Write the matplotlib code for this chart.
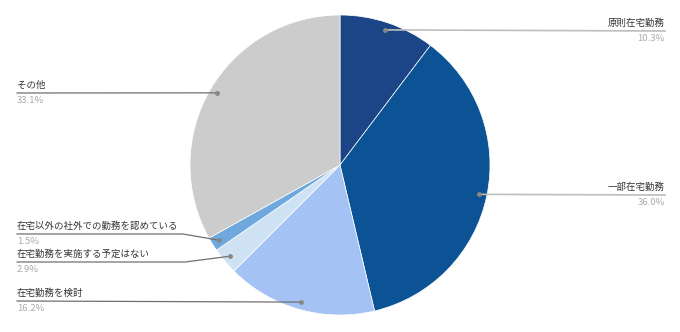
import numpy as np
import matplotlib.pyplot as plt

plt.rcParams['font.family'] = ['Noto Sans CJK JP', 'DejaVu Sans']

# ================================
# Data
# ================================
labels = ['原則在宅勤務', '一部在宅勤務', '在宅勤務を検討',
          '在宅勤務を実施する予定はない', '在宅以外の社外での勤務を認めている', 'その他']
values = [10.3, 36.0, 16.2, 2.9, 1.5, 33.1]
colors = ['#1c4587', '#0b5394', '#a4c2f4', '#cfe2f3', '#6fa8dc', '#cccccc']

# label layout (pixel coords, y from top): side, line y, bend x
label_layout = [
    ('right', 31, None),
    ('right', 195, None),
    ('left', 301, None),
    ('left', 262, 185),
    ('left', 234, 183),
    ('left', 93, None),
]

W, H = 680, 332
cx, cy, R = 340, 165, 150

fig = plt.figure(figsize=(W / 100, H / 100), dpi=100)
ax = fig.add_axes([0, 0, 1, 1])

wedges, _ = ax.pie(values, colors=colors, startangle=90, counterclock=False,
                   center=(cx, H - cy), radius=R,
                   wedgeprops=dict(edgecolor='white', linewidth=0.5))

# pie() resets the limits, so set them afterwards
ax.set_xlim(0, W)
ax.set_ylim(0, H)
ax.set_aspect('equal')
ax.axis('off')

for w, lab, val, (side, ly, bend) in zip(wedges, labels, values, label_layout):
    ang = np.deg2rad((w.theta1 + w.theta2) / 2)
    px = cx + 0.95 * R * np.cos(ang)
    py = H - cy + 0.95 * R * np.sin(ang)
    y = H - ly
    if side == 'right':
        ax.plot([px, 665], [py, y], color='#bdbdbd', lw=1.2)
        ax.text(665, y + 3, lab, ha='right', va='bottom', fontsize=6.8, color='#333333')
        ax.text(665, y - 3, f'{val:.1f}%', ha='right', va='top', fontsize=6.8, color='#aaaaaa')
    else:
        if bend is None:
            xs, ys = [17, px], [y, py]
        else:
            xs, ys = [17, bend, px], [y, y, py]
        ax.plot(xs, ys, color='#707070', lw=0.9)
        ax.text(17, y + 3, lab, ha='left', va='bottom', fontsize=6.8, color='#333333')
        ax.text(17, y - 3, f'{val:.1f}%', ha='left', va='top', fontsize=6.8, color='#aaaaaa')
    ax.plot([px], [py], 'o', color='#888888', ms=2.5)

fig.savefig('out.png', dpi=100)
